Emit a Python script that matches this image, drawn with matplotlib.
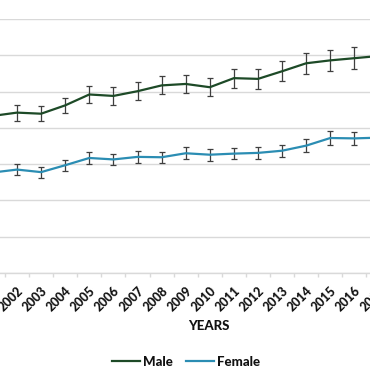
import numpy as np
import matplotlib
matplotlib.use('Agg')
import matplotlib.pyplot as plt
from matplotlib.ticker import MultipleLocator

# data (visible window roughly 2001-2017)
years = [2001, 2002, 2003, 2004, 2005, 2006, 2007, 2008, 2009,
         2010, 2011, 2012, 2013, 2014, 2015, 2016, 2017]
male = [43.3, 44.2, 43.9, 46.2, 49.2, 48.8, 50.1, 51.7, 52.1,
        51.2, 53.7, 53.5, 55.6, 57.8, 58.6, 59.2, 59.8]
male_err = [2.2, 2.2, 2.1, 2.1, 2.3, 2.5, 2.5, 2.5, 2.6,
            2.5, 2.6, 2.75, 2.75, 2.9, 2.9, 3.0, 3.0]
female = [27.7, 28.5, 27.8, 29.7, 31.7, 31.3, 32.0, 31.9, 33.0,
          32.6, 32.9, 33.1, 33.7, 35.1, 37.2, 37.1, 37.3]
female_err = [1.5, 1.5, 1.5, 1.5, 1.65, 1.5, 1.65, 1.5, 1.65,
              1.65, 1.5, 1.65, 1.65, 1.8, 1.8, 1.8, 1.8]
y_max = 70
y_step = 10

plt.rcParams['font.family'] = ['Lato', 'DejaVu Sans']

W, H = 370, 386
fig = plt.figure(figsize=(W / 100, H / 100), dpi=100)

# the chart is cropped: axes stick out past the left/right edges
left_px, right_px = -19.15, 390.55
top_px, bottom_px = 19, 273
ax = fig.add_axes([left_px / W, (H - bottom_px) / H,
                   (right_px - left_px) / W, (bottom_px - top_px) / H])

green = '#1d4a27'
teal = '#2b8db3'
ax.errorbar(years, male, yerr=male_err, color=green, lw=1.6,
            ecolor='#3f3f3f', elinewidth=0.9, capsize=2, capthick=0.9, label='Male', zorder=3)
ax.errorbar(years, female, yerr=female_err, color=teal, lw=1.6,
            ecolor='#3f3f3f', elinewidth=0.9, capsize=2, capthick=0.9, label='Female', zorder=3)

ax.set_xlim(years[0] - 0.5, years[-1] + 0.5)
ax.set_ylim(0, y_max)
ax.yaxis.set_major_locator(MultipleLocator(y_step))
ax.grid(axis='y', color='#d9d9d9', lw=1.0)
ax.set_axisbelow(True)

for s in ['left', 'right', 'top']:
    ax.spines[s].set_visible(False)
ax.spines['bottom'].set_color('#d9d9d9')
ax.spines['bottom'].set_linewidth(1.0)

ax.set_xticks(years)
ax.set_xticklabels([str(y) for y in years], rotation=45, ha='right',
                   rotation_mode='anchor', fontsize=9, fontweight='black', color='#111111')
ax.set_xticks([y + 0.5 for y in years[:-1]], minor=True)
ax.tick_params(axis='x', which='major', length=0, pad=8)
ax.tick_params(axis='x', which='minor', length=3, color='#d9d9d9', width=1.0)
# y labels sit outside the cropped picture
ax.tick_params(axis='y', length=0, labelleft=False)

fig.text(209 / W, 1 - 326 / H, 'YEARS', ha='center', va='center',
         fontsize=9.5, fontweight='black', color='#111111')

leg = fig.legend([plt.Line2D([], [], color=green, lw=1.6),
                  plt.Line2D([], [], color=teal, lw=1.6)],
                 ['Male', 'Female'], loc='center', bbox_to_anchor=(186 / W, 1 - 362 / H),
                 ncol=2, frameon=False, handlelength=2.1, handletextpad=0.25,
                 columnspacing=1.0, prop={'size': 9.5, 'weight': 'black'})
for t in leg.get_texts():
    t.set_color('#111111')

fig.savefig('out.png', dpi=100)
